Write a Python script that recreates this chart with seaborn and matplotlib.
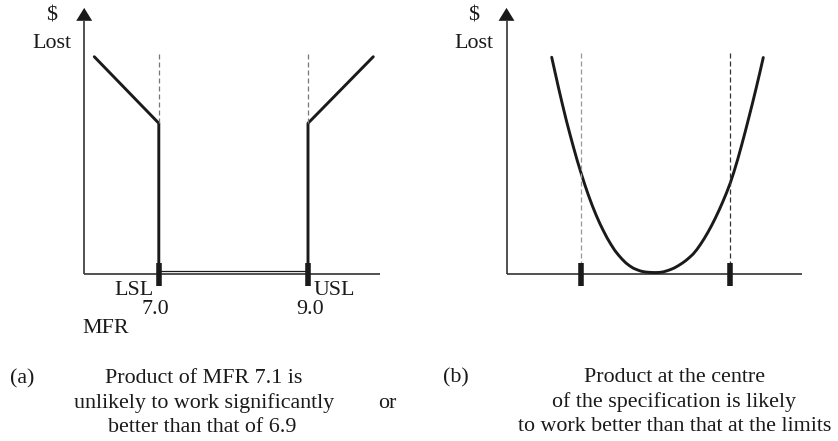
import matplotlib
matplotlib.use("Agg")
import matplotlib.pyplot as plt
import seaborn as sns

sns.set_theme(style="white")
plt.rcParams['font.family'] = ['Liberation Serif', 'DejaVu Serif']

# ---- data ----
spec_limits = [7.0, 9.0]
spec_labels = ["LSL", "USL"]
limit_values = ["7.0", "9.0"]

# panel (a): step loss function (MFR, $ lost)
step_left_x = [6.135, 7.0, 7.0]
step_left_y = [82.3, 57.1, 1.3]
step_right_x = [9.0, 9.0, 9.875]
step_right_y = [1.3, 57.1, 82.3]
flat_x = [7.0, 9.0]
flat_y = [1.25, 1.25]

# panel (b): loss curve
curve_x = [6.606, 6.65, 6.70, 6.75, 6.80, 6.85, 6.90, 6.95, 7.00, 7.05,
           7.10, 7.15, 7.20, 7.25, 7.30, 7.35, 7.40, 7.45, 7.50, 7.55,
           7.60, 7.65, 7.70, 7.75, 7.80, 7.85, 7.90, 7.95, 8.00, 8.05,
           8.10, 8.15, 8.20, 8.25, 8.30, 8.35, 8.40, 8.45, 8.50, 8.55,
           8.60, 8.65, 8.70, 8.75, 8.80, 8.85, 8.90, 8.95, 9.00, 9.05,
           9.10, 9.15, 9.20, 9.25, 9.30, 9.35, 9.40, 9.442]
curve_y = [82.1, 76.5, 70.2, 64.2, 58.4, 53.0, 47.8, 42.8, 38.2, 33.8,
           29.7, 25.9, 22.4, 19.2, 16.3, 13.6, 11.2, 9.0, 7.2, 5.6,
           4.2, 3.1, 2.2, 1.6, 1.1, 0.8, 0.65, 0.57, 0.55, 0.6,
           0.8, 1.2, 1.7, 2.3, 3.1, 4.0, 5.0, 6.2, 7.5, 9.2,
           11.2, 13.4, 15.8, 18.4, 21.2, 24.2, 27.4, 30.8, 34.5, 38.8,
           43.5, 48.6, 53.9, 59.4, 65.0, 70.8, 76.8, 82.0]

W, H = 838, 441
fig = plt.figure(figsize=(W / 100, H / 100), dpi=100)

INK = "#1a1a1a"
AX = "#333333"
FS = 15.8


def fx(px):
    return px / W


def fy(py):
    return 1 - py / H


def make_axes(left_px):
    ax = fig.add_axes([fx(left_px), fy(274), 298.4 / W, 264 / H])
    ax.set_xlim(6, 10)
    ax.set_ylim(0, 100)
    ax.set_axis_off()
    ax.plot([6, 6], [0, 96], color=AX, lw=1.2, clip_on=False, solid_capstyle="butt")
    ax.plot([6, 9.96], [0, 0], color=AX, lw=1.2, clip_on=False, solid_capstyle="butt")
    ax.fill([5.893, 6.0, 6.107], [95.9, 100.8, 95.9], color=INK, clip_on=False, lw=0)
    return ax


# ---------- panel (a) ----------
axa = make_axes(84.2)
for xs, ys in [(step_left_x, step_left_y), (step_right_x, step_right_y)]:
    sns.lineplot(x=xs, y=ys, ax=axa, sort=False, color=INK, lw=2.1,
                 estimator=None, clip_on=False)
sns.lineplot(x=flat_x, y=flat_y, ax=axa, sort=False, color=INK, lw=0.9,
             estimator=None, clip_on=False)
for xl in spec_limits:
    axa.plot([xl, xl], [83.4, 57.1], color="#777777", lw=0.9, dashes=(4, 2.4))
    axa.plot([xl, xl], [4.17, -4.43], color=INK, lw=4.0, clip_on=False,
             solid_capstyle="butt")
axa.set_axis_off()

# ---------- panel (b) ----------
axb = make_axes(506.5)
sns.lineplot(x=curve_x, y=curve_y, ax=axb, color=INK, lw=2.1, estimator=None)
for xl, col in zip(spec_limits, ["#999999", "#333333"]):
    axb.plot([xl, xl], [83.6, 4.17], color=col, lw=0.9, dashes=(4, 2.4))
    axb.plot([xl, xl], [4.17, -4.43], color=INK, lw=4.0, clip_on=False,
             solid_capstyle="butt")
axb.set_axis_off()

# ---------- text ----------
kw = dict(fontsize=FS, color=INK, va="baseline", ha="center")
for cx in (52, 473.5):
    fig.text(fx(cx), fy(20.5), "$", **kw)
    fig.text(fx(cx), fy(47.5), "Lost", **kw)

fig.text(fx(133.5), fy(295), spec_labels[0], **kw)
fig.text(fx(334.5), fy(295), spec_labels[1], **kw)
fig.text(fx(155.5), fy(314), limit_values[0], **kw)
fig.text(fx(309.7), fy(314), limit_values[1], **kw)
fig.text(fx(105.5), fy(332.7), "MFR", **kw)

fig.text(fx(22), fy(383), "(a)", **kw)
fig.text(fx(203.5), fy(383), "Product of MFR 7.1 is", **kw)
fig.text(fx(204), fy(408), "unlikely to work significantly", **kw)
fig.text(fx(387), fy(408), "or", **kw)
fig.text(fx(202), fy(432), "better than that of 6.9", **kw)

fig.text(fx(456), fy(382), "(b)", **kw)
fig.text(fx(674.5), fy(382), "Product at the centre", **kw)
fig.text(fx(674), fy(407), "of the specification is likely", **kw)
fig.text(fx(675), fy(431), "to work better than that at the limits", **kw)

fig.savefig("out.png", dpi=100)
